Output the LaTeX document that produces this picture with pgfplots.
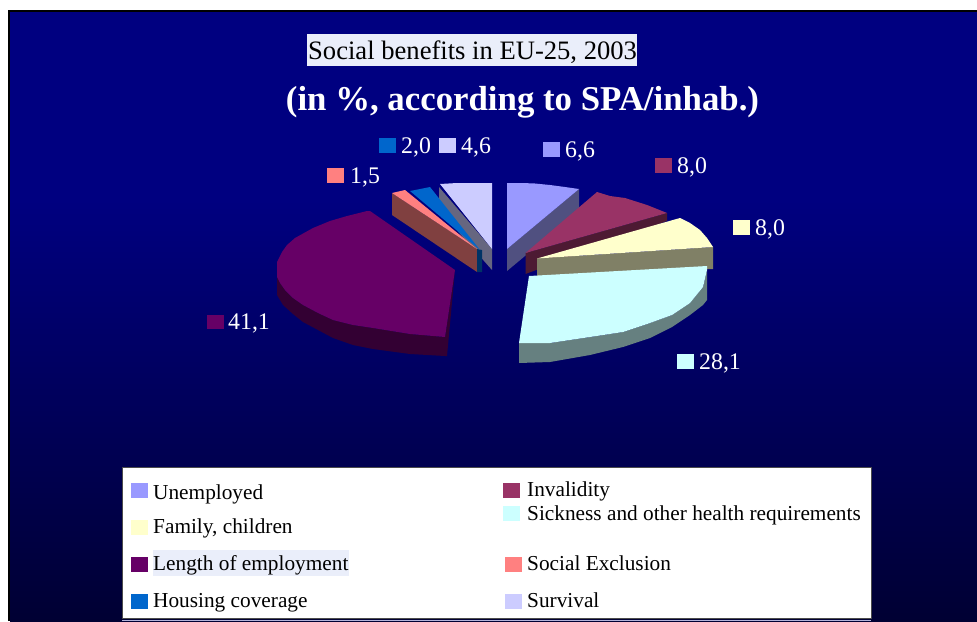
\documentclass[border=0pt]{standalone}
\usepackage{pgfplots}
\pgfplotsset{compat=1.18}
\usepackage{fontspec}
\setmainfont{Liberation Serif}
\definecolor{navytop}{HTML}{000080}
\definecolor{navybot}{HTML}{000033}
\definecolor{cUnemp}{HTML}{9999FF}
\definecolor{cUnempS}{HTML}{505080}
\definecolor{cInv}{HTML}{993366}
\definecolor{cInvS}{HTML}{4D1A33}
\definecolor{cFam}{HTML}{FFFFCC}
\definecolor{cFamS}{HTML}{808066}
\definecolor{cSick}{HTML}{CCFFFF}
\definecolor{cSickS}{HTML}{668080}
\definecolor{cLen}{HTML}{660066}
\definecolor{cLenS}{HTML}{330033}
\definecolor{cSoc}{HTML}{FF8080}
\definecolor{cSocS}{HTML}{804040}
\definecolor{cHou}{HTML}{0066CC}
\definecolor{cHouS}{HTML}{003366}
\definecolor{cSur}{HTML}{CCCCFF}
\definecolor{cSurS}{HTML}{666680}
\definecolor{hl}{HTML}{EAEEFA}
\newcommand{\poly}[2]{\addplot[fill=#1,draw=none,forget plot] coordinates {#2};}
\newcommand{\lab}[3]{\node[anchor=base west,inner sep=0pt,text=white,font=\fontsize{23.8}{26}\selectfont] at (axis cs:#1,#2) {#3};}
\newcommand{\leg}[3]{\node[anchor=base west,inner sep=0pt,text=black,font=\fontsize{21.3}{24}\selectfont] at (axis cs:#1,#2) {#3};}
\begin{document}
\begin{tikzpicture}
\begin{axis}[
  scale only axis, width=977pt, height=621pt,
  xmin=0, xmax=977, ymin=0, ymax=621, y dir=reverse,
  axis lines=none, clip=true, no markers,
  every axis plot/.append style={line join=round},
]
% page and background
\poly{white}{(0,0)(977,0)(977,621)(0,621)}
\poly{black}{(8,10)(977,10)(977,621)(8,621)}
\shade[top color=navytop,bottom color=navytop] (axis cs:10,12) rectangle (axis cs:977,200);
\shade[top color=navytop,bottom color=navybot] (axis cs:10,200) rectangle (axis cs:977,621);
% title
\poly{hl}{(307,34)(637,34)(637,66)(307,66)}
\node[anchor=base west,inner sep=0pt,text=black,font=\fontsize{26.6}{30}\selectfont] at (axis cs:308,59) {Social benefits in EU-25, 2003};
\node[anchor=base,inner sep=0pt,text=white,font=\fontsize{34.8}{38}\selectfont\bfseries] at (axis cs:522.5,110) {(in \%, according to SPA/inhab.)};
% Survival
\poly{cSurS}{(439,187)(492,249)(492,270)(439,210)}
\poly{cSur}{(440,184)(457,183)(492,183)(492,249)}
% Social exclusion
\poly{cSocS}{(392,193)(477,249)(477,272)(392,215)}
\poly{cSoc}{(392,193)(405,190)(477,249)}
% Housing
\poly{cHouS}{(477,249)(482,250)(482,272)(477,272)}
\poly{cHou}{(410,191)(430,187)(480,250)}
% Length of employment
\poly{cLenS}{(277,262)(277,295)(283,305)(293,314)(303,322)(318,330)(333,338)(353,345)(373,349)(410,354)(445,356)(447,356)(455,270)(445,337)(410,334)(373,328)(353,325)(333,320)(318,313)(303,305)(293,298)(285,290)(280,283)(277,277)}
\poly{cLen}{(455,270)(370,211)(367,211)(347,216)(330,221)(313,228)(295,238)(287,245)(282,252)(277,262)(277,277)(280,283)(285,290)(293,298)(303,305)(318,313)(333,320)(353,325)(373,328)(410,334)(445,337)}
% Unemployed
\poly{cUnempS}{(507,249)(579,189)(579,211)(507,271)}
\poly{cUnemp}{(507,249)(507,183)(522,183)(535,183.5)(550,185)(565,187)(579,189)}
% Invalidity
\poly{cInvS}{(525.5,253)(667,213)(667,221)(525.5,274)}
\poly{cInv}{(525.5,253)(597,192)(610,196)(625,198)(647,205)(667,213)}
% Family
\poly{cFamS}{(537,258.5)(713,247)(713,269)(537,276)}
\poly{cFam}{(537,258.5)(680,218)(690,223)(700,230)(707,238)(713,247)}
% Sickness
\poly{cSickS}{(519,343)(519,363)(550,362)(590,355)(623,347)(650,338)(672,327)(690,315)(703,305)(707,300)(707,270)(703,287)(690,303)(672,315)(650,323)(623,332)(590,337)(550,343)}
\poly{cSick}{(529,276)(707,266)(707,270)(703,287)(690,303)(672,315)(650,323)(623,332)(590,337)(550,343)(519,343)}
% data label keys and values
\poly{cSoc}{(327,168)(344,168)(344,183)(327,183)}
\poly{cHou}{(379,138)(396,138)(396,153)(379,153)}
\poly{cSur}{(439,138)(456,138)(456,153)(439,153)}
\poly{cUnemp}{(543,142)(560,142)(560,157)(543,157)}
\poly{cInv}{(655,158)(672,158)(672,173)(655,173)}
\poly{cFam}{(733,220)(750,220)(750,235)(733,235)}
\poly{cSick}{(677,354)(694,354)(694,369)(677,369)}
\poly{cLen}{(207,315)(224,315)(224,329)(207,329)}
\lab{350}{183}{1,5}
\lab{401}{153}{2,0}
\lab{461}{153}{4,6}
\lab{565}{157}{6,6}
\lab{677}{173}{8,0}
\lab{755}{235}{8,0}
\lab{699}{369}{28,1}
\lab{228}{329}{41,1}
% legend
\poly{white}{(122,467)(871,467)(871,618)(122,618)}
\addplot[draw=black!70,line width=0.8pt,forget plot] coordinates {(122,618)(122,467)(871,467)(871,618)(122,618)};
\addplot[draw=white!70!navytop,line width=0.8pt,forget plot] coordinates {(122,620)(871,620)};
\poly{hl}{(153,550)(349,550)(349,576)(153,576)}
\poly{cUnemp}{(131,483)(148,483)(148,498)(131,498)}
\poly{cFam}{(131,520)(148,520)(148,535)(131,535)}
\poly{cLen}{(131,557)(148,557)(148,572)(131,572)}
\poly{cHou}{(131,594)(148,594)(148,609)(131,609)}
\poly{cInv}{(503,483)(520,483)(520,498)(503,498)}
\poly{cSick}{(503,506)(520,506)(520,521)(503,521)}
\poly{cSoc}{(505,557)(522,557)(522,572)(505,572)}
\poly{cSur}{(505,594)(522,594)(522,609)(505,609)}
\leg{153}{499}{Unemployed}
\leg{153}{533}{Family, children}
\leg{153}{570}{Length of employment}
\leg{153}{607}{Housing coverage}
\leg{527}{496}{Invalidity}
\leg{527}{520}{Sickness and other health requirements}
\leg{527}{570}{Social Exclusion}
\leg{527}{607}{Survival}
\end{axis}
\end{tikzpicture}
\end{document}
